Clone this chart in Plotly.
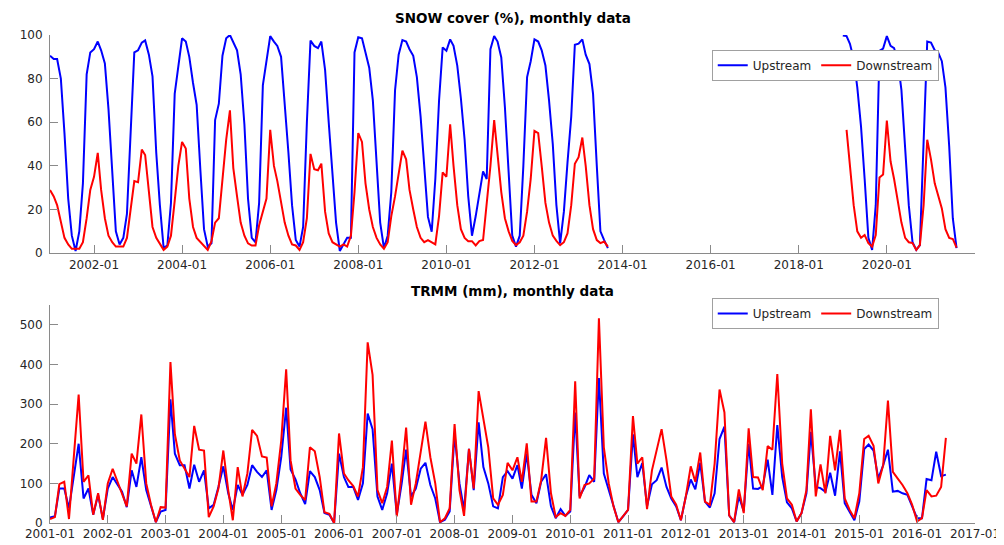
import pandas as pd
import plotly.graph_objects as go

# ---------------- SNOW cover (%) monthly ----------------
snow_up_2001 = [90.5, 89, 89, 80, 55, 25, 8, 1, 10, 32, 82, 92]
snow_up_2002 = [93.5, 97, 93, 87, 66, 35, 10, 4, 7, 18, 58, 92]
snow_up_2003 = [93, 96.5, 97.5, 91, 81, 46, 22, 2.5, 3.5, 23, 73, 85]
snow_up_2004 = [98.5, 97, 90, 78, 68, 38, 11, 3, 4.5, 61, 68.5, 90.5]
snow_up_2005 = [98.5, 100, 97, 93, 82, 59, 25, 7, 5, 23, 77, 88]
snow_up_2006 = [99.5, 97, 95, 90, 70, 46, 22, 6, 3, 12, 60, 97.5]
snow_up_2007 = [95, 94, 97, 84, 60, 34, 14, 1, 4, 7, 7, 92]
snow_up_2008 = [99, 98.5, 92, 85, 70, 41.5, 14, 2.3, 8, 28, 74.6, 91]
snow_up_2009 = [97.7, 97, 93.5, 90.5, 80.7, 62.6, 41.5, 16.6, 9.8, 34, 70, 94.3]
snow_up_2010 = [92.8, 98, 95, 86, 71, 52, 26, 8, 17, 27, 37.5, 34]
snow_up_2011 = [93.5, 99.5, 97, 89.7, 67, 37, 8, 3, 8, 40, 80.7, 88]
snow_up_2012 = [98, 97, 93, 86, 70, 50, 22, 4.5, 19, 41.5, 62.6, 95.5]
snow_up_2013 = [96, 98, 91, 86.7, 73, 40, 10, 6, 2.3]
snow_up_2019 = [99.8, 99.5, 96, 89, 76, 58, 34, 7, 1.5, 22, 92.8, 93.8]
snow_up_2020 = [99.5, 95, 94, 88, 74.7, 49, 22, 5, 1.5, 3.7, 50, 97]
snow_up_2021 = [96.5, 93, 92, 88, 76, 49, 16, 2.3]

snow_dn_2001 = [29, 26, 22, 14, 7, 4, 2, 2, 2, 5, 16, 29]
snow_dn_2002 = [35, 46, 29, 16, 8, 5, 3, 3, 3, 7, 19, 33]
snow_dn_2003 = [32.5, 47.5, 45, 27, 12, 7, 4, 1.5, 3, 8, 24, 40]
snow_dn_2004 = [51, 48, 25, 12, 7, 5, 3, 1.5, 5.5, 14, 16, 35]
snow_dn_2005 = [52, 65.5, 39, 26, 14, 8, 4.5, 3.5, 3.5, 12.8, 19, 25]
snow_dn_2006 = [56.5, 40, 33, 24, 14, 8, 4, 3.5, 1.5, 5, 16, 45.5]
snow_dn_2007 = [38.5, 38, 41, 19, 9, 5, 4, 3, 4, 3, 8, 28]
snow_dn_2008 = [55, 51, 32, 20, 12, 7, 4, 2, 5, 17, 26, 37]
snow_dn_2009 = [47, 43, 29, 20, 12, 7, 5, 6, 5, 4, 17, 37]
snow_dn_2010 = [35, 59, 40, 22, 11, 7, 5.5, 5.5, 3.5, 5.5, 6, 22]
snow_dn_2011 = [40, 61, 46, 28, 16, 10, 5.6, 3.7, 5, 8, 19, 34]
snow_dn_2012 = [56, 55, 40, 23, 14, 8, 5.6, 3.7, 5, 9, 22, 41]
snow_dn_2013 = [44, 53, 40, 22, 11, 6, 4.6, 5.3, 3]
snow_dn_2019 = [None, 56.5, 40, 22, 10, 7, 8.3, 4.6, 3, 8.3, 34.7, 36]
snow_dn_2020 = [60.8, 42, 34, 23, 14, 7, 5, 4.6, 1.5, 3.7, 22, 52]
snow_dn_2021 = [43, 32, 26, 20.5, 11, 7, 6.5, 2.5]

snow_tick_labels = ["2002-01", "2004-01", "2006-01", "2008-01", "2010-01",
                    "2012-01", "2014-01", "2016-01", "2018-01", "2020-01"]

# ---------------- TRMM (mm) monthly ----------------
trmm_up_2001 = [14, 17, 87, 87, 37, 125, 200, 62, 87, 21, 71, 10]
trmm_up_2002 = [87, 116, 100, 79, 40, 133, 91, 166, 83, 42, 2, 29]
trmm_up_2003 = [33, 312, 175, 146, 146, 87, 147, 104, 133, 37, 46, 91]
trmm_up_2004 = [143, 75, 33, 96, 71, 96, 146, 129, 116, 133, 33, 83]
trmm_up_2005 = [166, 291, 135, 110, 75, 48, 131, 116, 83, 25, 21, 0]
trmm_up_2006 = [175, 116, 91, 91, 58, 100, 276, 237, 67, 33, 75, 150]
trmm_up_2007 = [21, 100, 185, 67, 87, 137, 152, 96, 62, 2, 8, 29]
trmm_up_2008 = [224, 100, 33, 187, 83, 254, 141, 100, 42, 37, 116, 131]
trmm_up_2009 = [112, 146, 87, 175, 71, 50, 104, 123, 42, 12, 35, 18]
trmm_up_2010 = [29, 279, 67, 90, 121, 104, 366, 125, 83, 42, 2, 17]
trmm_up_2011 = [33, 224, 116, 151, 42, 98, 108, 140, 91, 62, 42, 7]
trmm_up_2012 = [67, 110, 85, 152, 54, 39, 75, 212, 243, 19, 2, 67]
trmm_up_2013 = [30, 200, 87, 86, 93, 160, 71, 247, 116, 52, 37, 4]
trmm_up_2014 = [25, 75, 230, 91, 88, 79, 127, 69, 181, 50, 29, 7]
trmm_up_2015 = [54, 187, 198, 183, 112, 146, 185, 79, 81, 75, 71, 42]
trmm_up_2016 = [12, 12, 111, 108, 180, 118, 122]

trmm_dn_2001 = [10, 15, 98, 104, 10, 170, 324, 104, 120, 21, 75, 8]
trmm_dn_2002 = [100, 137, 108, 75, 42, 175, 150, 274, 100, 46, 2, 40]
trmm_dn_2003 = [39, 406, 224, 158, 137, 116, 245, 185, 183, 15, 42, 87]
trmm_dn_2004 = [183, 83, 7, 141, 67, 125, 235, 220, 168, 165, 42, 100]
trmm_dn_2005 = [208, 388, 158, 87, 71, 58, 191, 181, 116, 27, 23, 0]
trmm_dn_2006 = [226, 125, 108, 93, 67, 141, 456, 374, 83, 50, 91, 208]
trmm_dn_2007 = [17, 125, 241, 46, 100, 183, 256, 166, 100, 2, 12, 37]
trmm_dn_2008 = [250, 83, 18, 187, 87, 333, 258, 191, 62, 46, 71, 152]
trmm_dn_2009 = [133, 166, 104, 201, 54, 54, 108, 215, 75, 15, 25, 18]
trmm_dn_2010 = [33, 358, 62, 96, 100, 112, 517, 191, 100, 42, 2, 17]
trmm_dn_2011 = [33, 270, 150, 166, 35, 133, 183, 237, 158, 67, 46, 7]
trmm_dn_2012 = [67, 143, 104, 178, 54, 46, 150, 337, 279, 19, 2, 85]
trmm_dn_2013 = [25, 239, 116, 115, 83, 194, 185, 376, 150, 62, 46, 4]
trmm_dn_2014 = [25, 83, 287, 67, 148, 75, 220, 133, 235, 62, 33, 12]
trmm_dn_2015 = [75, 212, 220, 195, 100, 146, 309, 129, 112, 96, 75, 46]
trmm_dn_2016 = [4, 12, 83, 67, 69, 91, 215]

trmm_tick_labels = ["2001-01", "2002-01", "2003-01", "2004-01", "2005-01", "2006-01",
                    "2007-01", "2008-01", "2009-01", "2010-01", "2011-01", "2012-01",
                    "2013-01", "2014-01", "2015-01", "2016-01", "2017-01"]

# ---------------- assemble series ----------------
gap_2013_2018 = [None] * (3 + 5 * 12)

snow_up = (snow_up_2001 + snow_up_2002 + snow_up_2003 + snow_up_2004 + snow_up_2005 +
           snow_up_2006 + snow_up_2007 + snow_up_2008 + snow_up_2009 + snow_up_2010 +
           snow_up_2011 + snow_up_2012 + snow_up_2013 + gap_2013_2018 +
           snow_up_2019 + snow_up_2020 + snow_up_2021)
snow_dn = (snow_dn_2001 + snow_dn_2002 + snow_dn_2003 + snow_dn_2004 + snow_dn_2005 +
           snow_dn_2006 + snow_dn_2007 + snow_dn_2008 + snow_dn_2009 + snow_dn_2010 +
           snow_dn_2011 + snow_dn_2012 + snow_dn_2013 + gap_2013_2018 +
           snow_dn_2019 + snow_dn_2020 + snow_dn_2021)
snow_dates = pd.date_range("2001-01-01", periods=len(snow_up), freq="MS")

trmm_up = (trmm_up_2001 + trmm_up_2002 + trmm_up_2003 + trmm_up_2004 + trmm_up_2005 +
           trmm_up_2006 + trmm_up_2007 + trmm_up_2008 + trmm_up_2009 + trmm_up_2010 +
           trmm_up_2011 + trmm_up_2012 + trmm_up_2013 + trmm_up_2014 + trmm_up_2015 +
           trmm_up_2016)
trmm_dn = (trmm_dn_2001 + trmm_dn_2002 + trmm_dn_2003 + trmm_dn_2004 + trmm_dn_2005 +
           trmm_dn_2006 + trmm_dn_2007 + trmm_dn_2008 + trmm_dn_2009 + trmm_dn_2010 +
           trmm_dn_2011 + trmm_dn_2012 + trmm_dn_2013 + trmm_dn_2014 + trmm_dn_2015 +
           trmm_dn_2016)
trmm_dates = pd.date_range("2001-01-01", periods=len(trmm_up), freq="MS")

BLUE = "#0000ff"
RED = "#ff0000"
FONT = "DejaVu Sans"
AXC = "#8a8a8a"
TXC = "#262626"

fig = go.Figure()
fig.add_trace(go.Scatter(x=snow_dates, y=snow_up, name="Upstream", mode="lines",
                         line=dict(color=BLUE, width=2), xaxis="x", yaxis="y",
                         legend="legend"))
fig.add_trace(go.Scatter(x=snow_dates, y=snow_dn, name="Downstream", mode="lines",
                         line=dict(color=RED, width=2), xaxis="x", yaxis="y",
                         legend="legend"))
fig.add_trace(go.Scatter(x=trmm_dates, y=trmm_up, name="Upstream", mode="lines",
                         line=dict(color=BLUE, width=2), xaxis="x2", yaxis="y2",
                         legend="legend2"))
fig.add_trace(go.Scatter(x=trmm_dates, y=trmm_dn, name="Downstream", mode="lines",
                         line=dict(color=RED, width=2), xaxis="x2", yaxis="y2",
                         legend="legend2"))

axis_common = dict(showgrid=False, zeroline=False, showline=True, linecolor=AXC,
                   linewidth=1, ticks="inside", ticklen=8, tickcolor=AXC, tickwidth=1,
                   tickfont=dict(family=FONT, size=12, color=TXC))

snow_tickvals = [f"{s[:4]}-01-01" for s in snow_tick_labels]
trmm_tickvals = [f"{s[:4]}-01-01" for s in trmm_tick_labels]

legend_common = dict(orientation="h", xanchor="left", yanchor="top",
                     bgcolor="white", bordercolor="#a0a0a0", borderwidth=1,
                     font=dict(family=FONT, size=12, color=TXC),
                     itemwidth=30, tracegroupgap=0)

fig.update_layout(
    width=1004, height=545,
    margin=dict(l=37, r=29, t=27, b=23),
    paper_bgcolor="white", plot_bgcolor="white",
    font=dict(family=FONT, size=12, color=TXC),
    xaxis=dict(domain=[0, 1], anchor="y", type="date",
               range=["2001-01-01", "2022-01-01"],
               tickvals=snow_tickvals, ticktext=snow_tick_labels, **axis_common),
    yaxis=dict(domain=[0.553, 1], anchor="x", range=[0, 100],
               tickvals=[0, 20, 40, 60, 80, 100], ticklabelstandoff=4, **axis_common),
    xaxis2=dict(domain=[0, 1], anchor="y2", type="date",
                range=["2001-01-01", "2017-01-01"],
                tickvals=trmm_tickvals, ticktext=trmm_tick_labels, **axis_common),
    yaxis2=dict(domain=[0, 0.4465], anchor="x2", range=[0, 550],
                tickvals=[0, 100, 200, 300, 400, 500], ticklabelstandoff=4, **axis_common),
    legend=dict(x=0.7154, y=0.970, **legend_common),
    legend2=dict(x=0.7154, y=0.461, **legend_common),
    annotations=[
        dict(text="<b>SNOW cover (%), monthly data</b>", xref="paper", yref="paper",
             x=0.5, y=1.034, xanchor="center", yanchor="middle", showarrow=False,
             font=dict(family=FONT, size=13.5, color="#000000")),
        dict(text="<b>TRMM (mm), monthly data</b>", xref="paper", yref="paper",
             x=0.5, y=0.475, xanchor="center", yanchor="middle", showarrow=False,
             font=dict(family=FONT, size=13.5, color="#000000")),
    ],
)

fig.write_html("out.html")
